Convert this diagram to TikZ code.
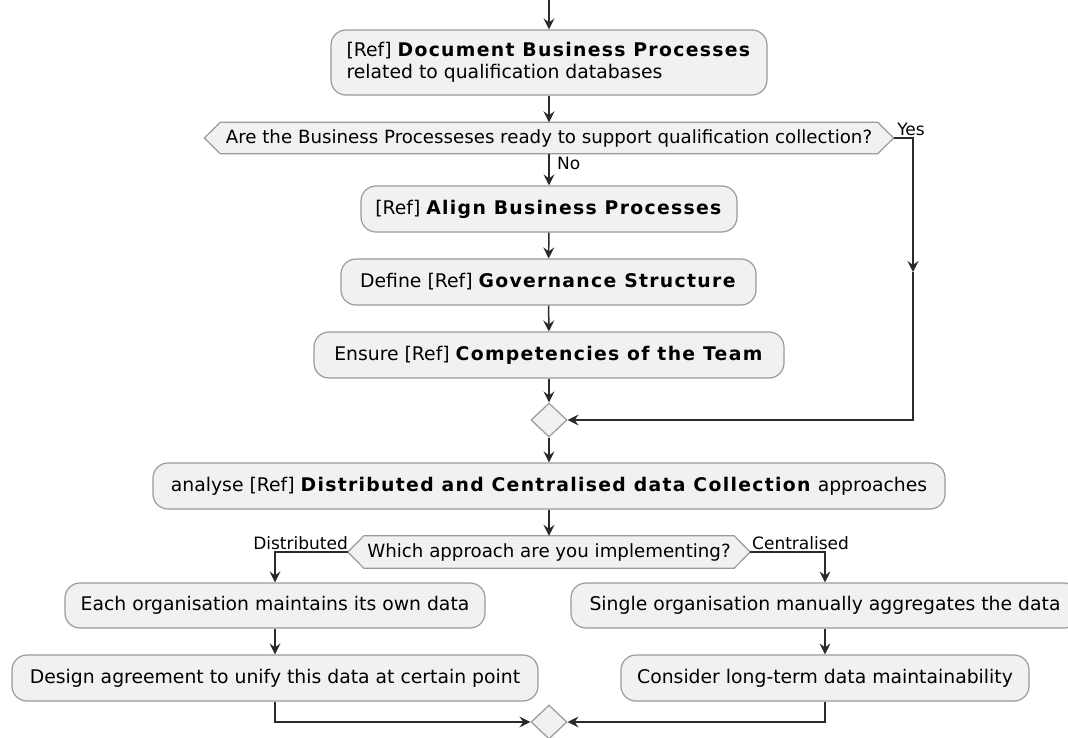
\documentclass[tikz,border=0pt]{standalone}
\usepackage{fontspec}
\setmainfont[BoldFeatures={LetterSpace=7}]{DejaVu Sans}
\usetikzlibrary{arrows.meta, shapes.geometric, calc, backgrounds}

\definecolor{boxfill}{HTML}{F1F1F1}
\definecolor{boxline}{HTML}{9A9A9A}
\definecolor{flowline}{HTML}{2A2A2A}

\tikzset{
  act/.style={draw=boxline, fill=boxfill, line width=1.2pt, rounded corners=15pt,
    minimum height=46pt, inner xsep=10pt, text=black,
    font=\fontsize{18.8}{21.5}\selectfont},
  qtext/.style={inner sep=0pt, text=black, font=\fontsize{18.2}{20}\selectfont},
  hexline/.style={draw=boxline, fill=boxfill, line width=1.2pt},
  merge/.style={diamond, draw=boxline, fill=boxfill, line width=1.2pt,
    minimum width=36pt, minimum height=34pt, inner sep=0pt},
  flow/.style={draw=flowline, line width=1.5pt,
    -{Stealth[length=11pt,width=11pt,inset=4pt]}},
  guard/.style={inner sep=0pt, text=black, font=\fontsize{17}{19}\selectfont},
}

% hexagonal decision outline around a text node (tips 16pt deep)
\newcommand\hexaround[1]{%
  \begin{scope}[on background layer]
    \path[hexline] (#1.west) -- ($(#1.north west)+(16,0)$) -- ($(#1.north east)+(-16,0)$)
      -- (#1.east) -- ($(#1.south east)+(-16,0)$) -- ($(#1.south west)+(16,0)$) -- cycle;
  \end{scope}}

\begin{document}
\begin{tikzpicture}[x=1pt, y=-1pt]
  \useasboundingbox (0,0) rectangle (1068,737);
  \clip (0,0) rectangle (1068,737);

  % activities of the first part
  \coordinate (start) at (549,0);
  \node[act, minimum width=436pt, minimum height=65pt, align=left] (b1) at (549,62.5)
    {[Ref] \textbf{Document Business Processes}\\related to qualification databases};
  \node[qtext, minimum width=689pt, minimum height=31pt] (q1) at (549,138)
    {Are the Business Processeses ready to support qualification collection?};
  \hexaround{q1}
  \node[act, minimum width=376pt] (b2) at (549,209) {[Ref] \textbf{Align Business Processes}};
  \node[act, minimum width=415pt] (b3) at (548.5,282) {Define [Ref] \textbf{Governance Structure}};
  \node[act, minimum width=470pt] (b4) at (549,355) {Ensure [Ref] \textbf{Competencies of the Team}};
  \node[merge] (m1) at (549,420) {};
  \coordinate (yesmid) at (913,272);

  % data collection approaches
  \node[act, minimum width=792pt] (b5) at (549,486)
    {analyse [Ref] \textbf{Distributed and Centralised data Collection} approaches};
  \node[qtext, minimum width=402pt, minimum height=32pt] (q2) at (549,552)
    {Which approach are you implementing?};
  \hexaround{q2}
  \node[act, minimum width=420pt, minimum height=45pt] (b6) at (275,605.5)
    {Each organisation maintains its own data};
  \node[act, minimum width=526pt] (b7) at (275,678)
    {Design agreement to unify this data at certain point};
  \node[act, minimum width=508pt, minimum height=45pt] (b8) at (825,605.5)
    {Single organisation manually aggregates the data};
  \node[act, minimum width=408pt] (b9) at (825,678)
    {Consider long-term data maintainability};
  \node[merge] (m2) at (549,722) {};

  % guard labels
  \node[guard, anchor=west] (lno) at (557,163) {No};
  \node[guard] (lyes) at (911,129) {Yes};
  \node[guard, anchor=east] (ldist) at (348,543) {Distributed};
  \node[guard, anchor=west] (lcent) at (752,543) {Centralised};

  % connectors
  \draw[flow] (start) -- (b1);
  \draw[flow] (b1) -- (q1);
  \draw[flow] (q1) -- (b2);
  \draw[flow] (b2) -- (b3);
  \draw[flow] (b3) -- (b4);
  \draw[flow] (b4) -- (m1);
  \draw[flow] (q1.east) -| (yesmid);
  \draw[flow] (yesmid) |- (m1.east);
  \draw[flow] (m1) -- (b5);
  \draw[flow] (b5) -- (q2);
  \draw[flow] (q2.west) -| (b6.north);
  \draw[flow] (q2.east) -| (b8.north);
  \draw[flow] (b6) -- (b7);
  \draw[flow] (b8) -- (b9);
  \draw[flow] (b7.south) |- (m2.west);
  \draw[flow] (b9.south) |- (m2.east);
\end{tikzpicture}
\end{document}
